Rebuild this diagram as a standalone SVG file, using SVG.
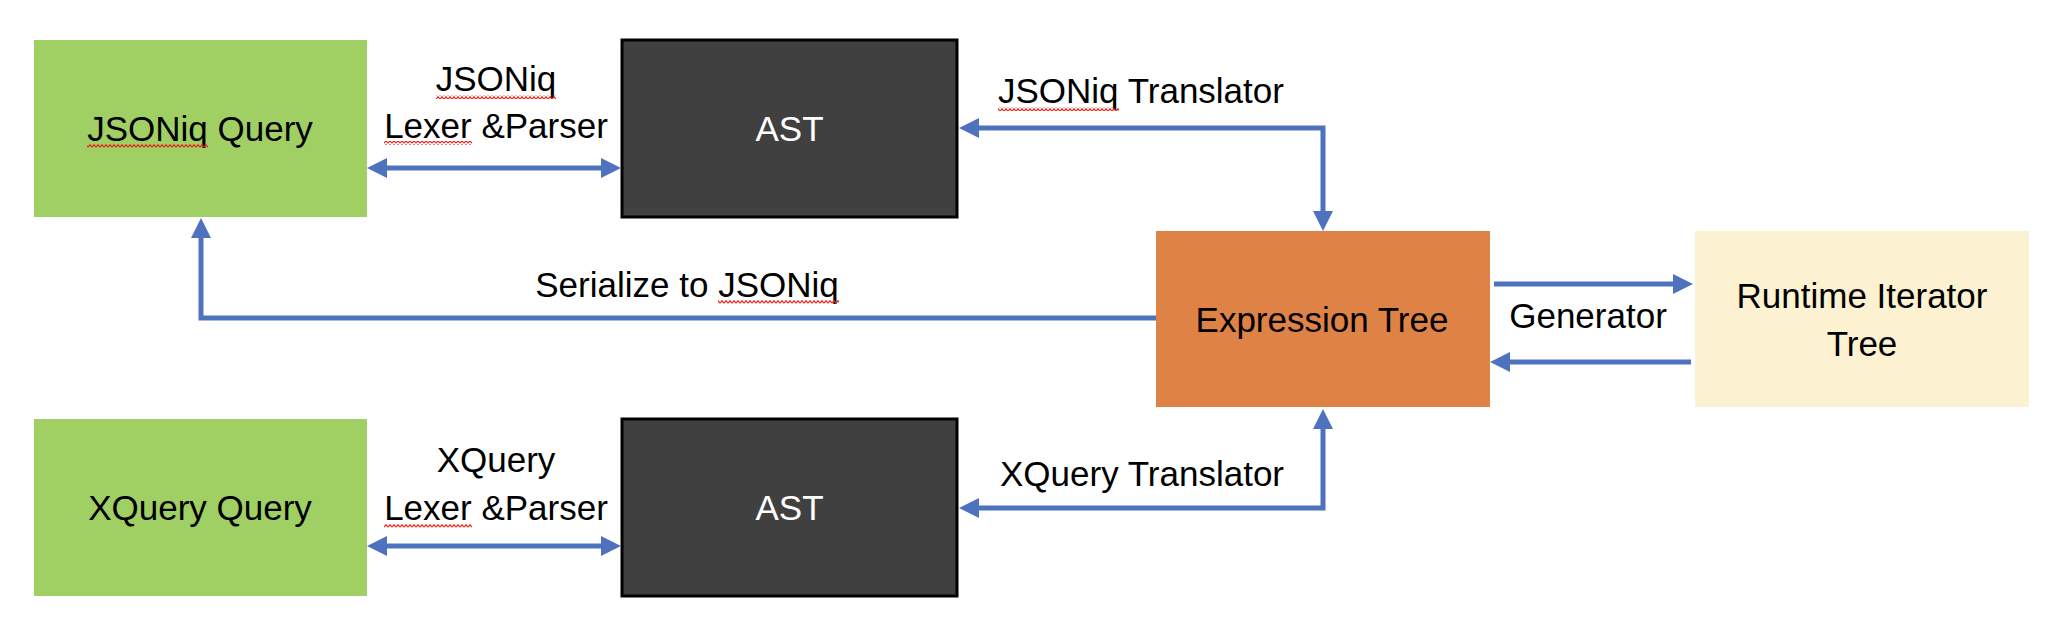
<svg xmlns="http://www.w3.org/2000/svg" width="2066" height="640" viewBox="0 0 2066 640">
<style>
  text { font-family: "Liberation Sans", Arial, sans-serif; font-size: 35px; fill: #000; }
  .c { text-anchor: middle; }
  .w { fill: #fff; }
  .conn { fill: none; stroke: #4F72BE; stroke-width: 5; stroke-linejoin: miter; }
  .green { fill: #A0CF63; }
  .ast { fill: #404040; stroke: #000; stroke-width: 3; }
  .orange { fill: #DF8245; }
  .cream { fill: #FCF1D0; }
</style>
<defs>
  <marker id="arr" markerUnits="userSpaceOnUse" markerWidth="20" markerHeight="20" refX="5" refY="10" orient="auto-start-reverse" viewBox="0 0 20 20">
    <path d="M0,0 L20,10 L0,20 Z" fill="#4F72BE"/>
  </marker>
  <pattern id="squiggle" patternUnits="userSpaceOnUse" width="4" height="4">
    <path d="M0 3.2 L2 0.8 L4 3.2" fill="none" stroke="#E5281E" stroke-width="1.3"/>
  </pattern>
</defs>
<rect width="2066" height="640" fill="#fff"/>

<g id="jsoniq-query">
  <rect class="green" x="34" y="40" width="333" height="177"/>
  <text class="c" x="200" y="141">JSONiq Query</text>
</g>
<g id="ast-top">
  <rect class="ast" x="622" y="40" width="335" height="177"/>
  <text class="c w" x="789.5" y="141">AST</text>
</g>
<g id="xquery-query">
  <rect class="green" x="34" y="419" width="333" height="177"/>
  <text class="c" x="200" y="520">XQuery Query</text>
</g>
<g id="ast-bottom">
  <rect class="ast" x="622" y="419" width="335" height="177"/>
  <text class="c w" x="789.5" y="520">AST</text>
</g>
<g id="expression-tree">
  <rect class="orange" x="1156" y="231" width="334" height="176"/>
  <text class="c" x="1322" y="332">Expression Tree</text>
</g>
<g id="runtime-iterator-tree">
  <rect class="cream" x="1695" y="231" width="334" height="176"/>
  <text class="c" x="1862" y="308">Runtime Iterator</text>
  <text class="c" x="1862" y="356">Tree</text>
</g>

<g id="connectors">
  <path class="conn" d="M382,168 L606,168" marker-start="url(#arr)" marker-end="url(#arr)"/>
  <path class="conn" d="M382,546 L606,546" marker-start="url(#arr)" marker-end="url(#arr)"/>
  <path class="conn" d="M1156,318 L201,318 L201,233" marker-end="url(#arr)"/>
  <path class="conn" d="M974,128 L1323,128 L1323,216" marker-start="url(#arr)" marker-end="url(#arr)"/>
  <path class="conn" d="M974,508 L1323,508 L1323,424" marker-start="url(#arr)" marker-end="url(#arr)"/>
  <path class="conn" d="M1494,284 L1678,284" marker-end="url(#arr)"/>
  <path class="conn" d="M1691,362 L1505,362" marker-end="url(#arr)"/>
</g>

<g id="labels">
  <text class="c" x="496" y="91">JSONiq</text>
  <text class="c" x="496" y="138">Lexer &amp;Parser</text>
  <text class="c" x="496" y="472">XQuery</text>
  <text class="c" x="496" y="520">Lexer &amp;Parser</text>
  <text x="998" y="103">JSONiq Translator</text>
  <text x="1000" y="486">XQuery Translator</text>
  <text class="c" x="687" y="297">Serialize to JSONiq</text>
  <text class="c" x="1588" y="328">Generator</text>
</g>

<g id="spellcheck">
  <rect x="87" y="144" width="121" height="4" fill="url(#squiggle)"/>
  <rect x="436" y="95" width="120" height="4" fill="url(#squiggle)"/>
  <rect x="384" y="141" width="88" height="4" fill="url(#squiggle)"/>
  <rect x="998" y="107" width="121" height="4" fill="url(#squiggle)"/>
  <rect x="718" y="300" width="121" height="4" fill="url(#squiggle)"/>
  <rect x="384" y="524" width="88" height="4" fill="url(#squiggle)"/>
</g>
</svg>
